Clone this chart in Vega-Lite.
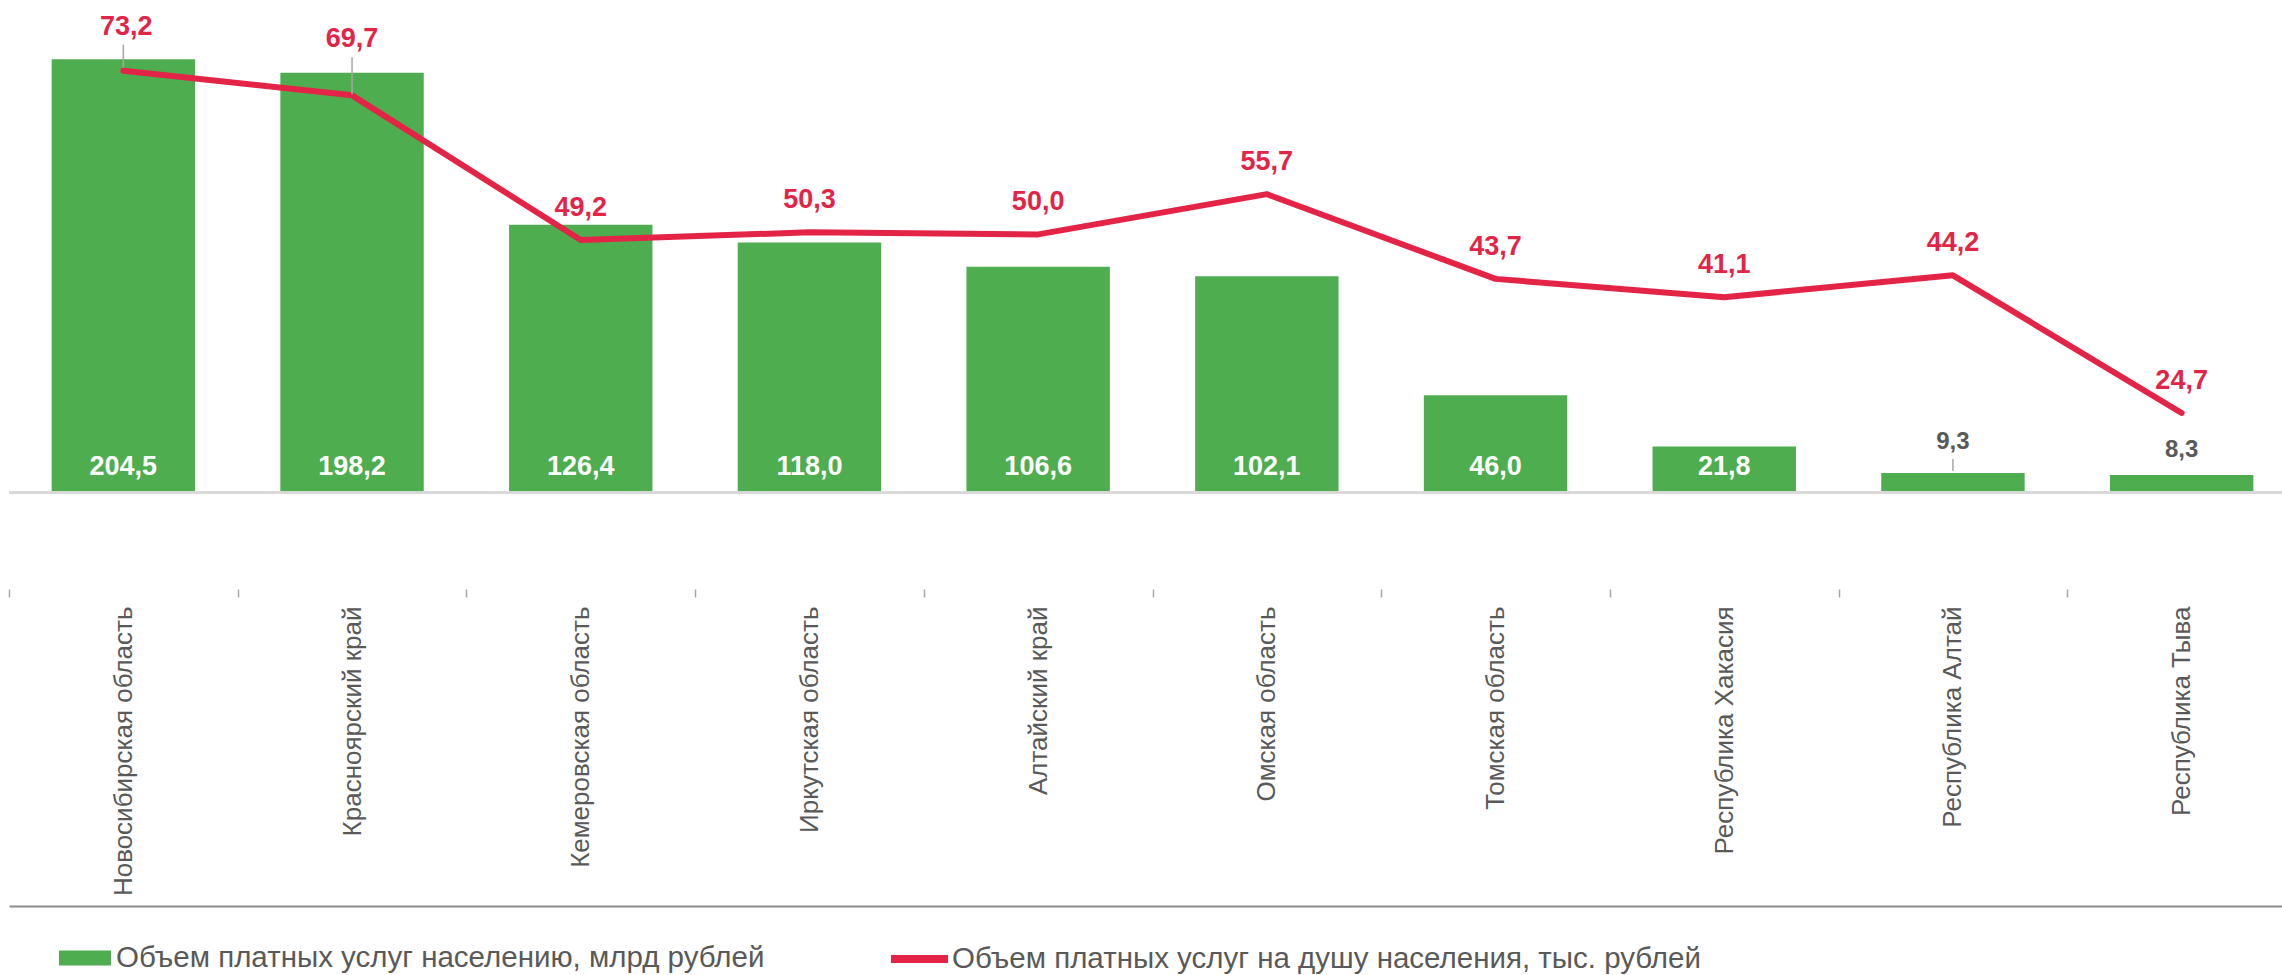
{
  "$schema": "https://vega.github.io/schema/vega-lite/v6.json",
  "width": 2273,
  "height": 589,
  "autosize": {"type": "none"},
  "padding": {"left": 9, "top": 0, "right": 0, "bottom": 386},
  "background": "white",
  "config": {
    "view": {"stroke": null},
    "font": "Liberation Sans",
    "locale": {"number": {"decimal": ",", "thousands": " ", "grouping": [3], "currency": ["", ""]}}
  },
  "data": {
    "values": [
      {"region": "Новосибирская область", "vol": 204.5, "pc": 73.2},
      {"region": "Красноярский край", "vol": 198.2, "pc": 69.7},
      {"region": "Кемеровская область", "vol": 126.4, "pc": 49.2},
      {"region": "Иркутская область", "vol": 118.0, "pc": 50.3},
      {"region": "Алтайский край", "vol": 106.6, "pc": 50.0},
      {"region": "Омская область", "vol": 102.1, "pc": 55.7},
      {"region": "Томская область", "vol": 46.0, "pc": 43.7},
      {"region": "Республика Хакасия", "vol": 21.8, "pc": 41.1},
      {"region": "Республика Алтай", "vol": 9.3, "pc": 44.2},
      {"region": "Республика Тыва", "vol": 8.3, "pc": 24.7}
    ]
  },
  "layer": [
    {
      "mark": {"type": "bar", "color": "#4EAD4F", "width": {"band": 0.627}},
      "encoding": {
        "x": {"field": "region", "type": "nominal", "sort": null,
          "scale": {"range": [0, 2287], "paddingInner": 0, "paddingOuter": 0},
          "axis": {"orient": "bottom", "title": null, "domain": false, "grid": false, "ticks": true, "tickBand": "extent", "tickSize": 8, "tickColor": "#a6a6a6", "tickWidth": 1.5,
            "labelAngle": -90, "labelAlign": "right", "labelBaseline": "middle", "labelPadding": 9, "labelFontSize": 26, "labelColor": "#595959", "labelFont": "Liberation Sans", "labelLimit": 500}},
        "y": {"field": "vol", "type": "quantitative", "scale": {"domain": [-45.44, 232.48], "nice": false, "zero": false}, "axis": null},
        "y2": {"datum": 0},
        "fill": {"datum": "Объем платных услуг населению, млрд рублей", "type": "nominal", "scale": {"range": ["#4EAD4F"]},
          "legend": {"orient": "none", "legendX": 50, "legendY": 932, "title": null, "padding": 0, "symbolType": "M-1,-0.29H1V0.29H-1Z", "symbolSize": 2704, "symbolStrokeWidth": 0, "symbolOpacity": 1,
            "labelFontSize": 29.5, "labelColor": "#595959", "labelFont": "Liberation Sans", "labelOffset": 5, "labelLimit": 1000}}
      }
    },
    {
      "mark": {"type": "rule", "color": "#d9d9d9", "strokeWidth": 2},
      "encoding": {
        "y": {"datum": 0, "type": "quantitative", "scale": {"domain": [-45.44, 232.48], "nice": false, "zero": false}, "axis": null}
      }
    },
    {
      "transform": [{"filter": "datum.vol > 15"}],
      "mark": {"type": "text", "color": "white", "fontSize": 27, "fontWeight": "bold", "font": "Liberation Sans", "baseline": "middle", "dy": -26},
      "encoding": {
        "x": {"field": "region", "type": "nominal", "sort": null, "axis": null},
        "y": {"datum": 0, "type": "quantitative", "scale": {"domain": [-45.44, 232.48], "nice": false, "zero": false}, "axis": null},
        "text": {"field": "vol", "type": "quantitative", "format": ".1f"}
      }
    },
    {
      "transform": [{"filter": "datum.region == 'Республика Алтай'"}],
      "mark": {"type": "text", "color": "#595959", "fontSize": 24, "fontWeight": "bold", "font": "Liberation Sans", "baseline": "middle", "dy": -31},
      "encoding": {
        "x": {"field": "region", "type": "nominal", "sort": null, "axis": null},
        "y": {"field": "vol", "type": "quantitative", "scale": {"domain": [-45.44, 232.48], "nice": false, "zero": false}, "axis": null},
        "text": {"field": "vol", "type": "quantitative", "format": ".1f"}
      }
    },
    {
      "transform": [{"filter": "datum.region == 'Республика Тыва'"}],
      "mark": {"type": "text", "color": "#595959", "fontSize": 24, "fontWeight": "bold", "font": "Liberation Sans", "baseline": "middle", "dy": -25},
      "encoding": {
        "x": {"field": "region", "type": "nominal", "sort": null, "axis": null},
        "y": {"field": "vol", "type": "quantitative", "scale": {"domain": [-45.44, 232.48], "nice": false, "zero": false}, "axis": null},
        "text": {"field": "vol", "type": "quantitative", "format": ".1f"}
      }
    },
    {
      "transform": [{"filter": "datum.region == 'Республика Алтай'"}],
      "mark": {"type": "rule", "color": "#a6a6a6", "strokeWidth": 1.5, "yOffset": -2, "y2Offset": -14},
      "encoding": {
        "x": {"field": "region", "type": "nominal", "sort": null, "axis": null},
        "y": {"field": "vol", "type": "quantitative", "scale": {"domain": [-45.44, 232.48], "nice": false, "zero": false}, "axis": null},
        "y2": {"field": "vol"}
      }
    },
    {
      "mark": {"type": "line", "strokeWidth": 6, "strokeJoin": "round", "strokeCap": "round"},
      "encoding": {
        "x": {"field": "region", "type": "nominal", "sort": null,
          "axis": {"orient": "bottom", "offset": 317, "title": null, "domain": true, "domainColor": "#8c8c8c", "domainWidth": 2, "ticks": false, "labels": false, "grid": false}},
        "y": {"field": "pc", "type": "quantitative", "scale": {"domain": [-0.24, 83.21], "nice": false, "zero": false}, "axis": null},
        "stroke": {"datum": "Объем платных услуг на душу населения, тыс. рублей", "type": "nominal", "scale": {"range": ["#E32447"]},
          "legend": {"orient": "none", "legendX": 878, "legendY": 926.5, "title": null, "padding": 0, "symbolType": "stroke", "symbolSize": 3249, "symbolStrokeWidth": 8,
            "labelFontSize": 29.5, "labelColor": "#595959", "labelFont": "Liberation Sans", "labelOffset": 0, "labelLimit": 1000}}
      }
    },
    {
      "transform": [{"filter": "datum.region != 'Новосибирская область' && datum.region != 'Красноярский край'"}],
      "mark": {"type": "text", "color": "#E32447", "fontSize": 27, "fontWeight": "bold", "font": "Liberation Sans", "baseline": "middle", "dy": -32},
      "encoding": {
        "x": {"field": "region", "type": "nominal", "sort": null, "axis": null},
        "y": {"field": "pc", "type": "quantitative", "scale": {"domain": [-0.24, 83.21], "nice": false, "zero": false}, "axis": null},
        "text": {"field": "pc", "type": "quantitative", "format": ".1f"}
      }
    },
    {
      "transform": [{"filter": "datum.region == 'Новосибирская область'"}],
      "mark": {"type": "text", "color": "#E32447", "fontSize": 27, "fontWeight": "bold", "font": "Liberation Sans", "baseline": "middle", "dy": -44, "dx": 3},
      "encoding": {
        "x": {"field": "region", "type": "nominal", "sort": null, "axis": null},
        "y": {"field": "pc", "type": "quantitative", "scale": {"domain": [-0.24, 83.21], "nice": false, "zero": false}, "axis": null},
        "text": {"field": "pc", "type": "quantitative", "format": ".1f"}
      }
    },
    {
      "transform": [{"filter": "datum.region == 'Красноярский край'"}],
      "mark": {"type": "text", "color": "#E32447", "fontSize": 27, "fontWeight": "bold", "font": "Liberation Sans", "baseline": "middle", "dy": -56},
      "encoding": {
        "x": {"field": "region", "type": "nominal", "sort": null, "axis": null},
        "y": {"field": "pc", "type": "quantitative", "scale": {"domain": [-0.24, 83.21], "nice": false, "zero": false}, "axis": null},
        "text": {"field": "pc", "type": "quantitative", "format": ".1f"}
      }
    },
    {
      "transform": [{"filter": "datum.region == 'Новосибирская область'"}],
      "mark": {"type": "rule", "color": "#a6a6a6", "strokeWidth": 1.5, "yOffset": -3, "y2Offset": -26},
      "encoding": {
        "x": {"field": "region", "type": "nominal", "sort": null, "axis": null},
        "y": {"field": "pc", "type": "quantitative", "scale": {"domain": [-0.24, 83.21], "nice": false, "zero": false}, "axis": null},
        "y2": {"field": "pc"}
      }
    },
    {
      "transform": [{"filter": "datum.region == 'Красноярский край'"}],
      "mark": {"type": "rule", "color": "#a6a6a6", "strokeWidth": 1.5, "yOffset": -1, "y2Offset": -38},
      "encoding": {
        "x": {"field": "region", "type": "nominal", "sort": null, "axis": null},
        "y": {"field": "pc", "type": "quantitative", "scale": {"domain": [-0.24, 83.21], "nice": false, "zero": false}, "axis": null},
        "y2": {"field": "pc"}
      }
    }
  ],
  "resolve": {"scale": {"y": "independent"}, "axis": {"x": "independent"}}
}
